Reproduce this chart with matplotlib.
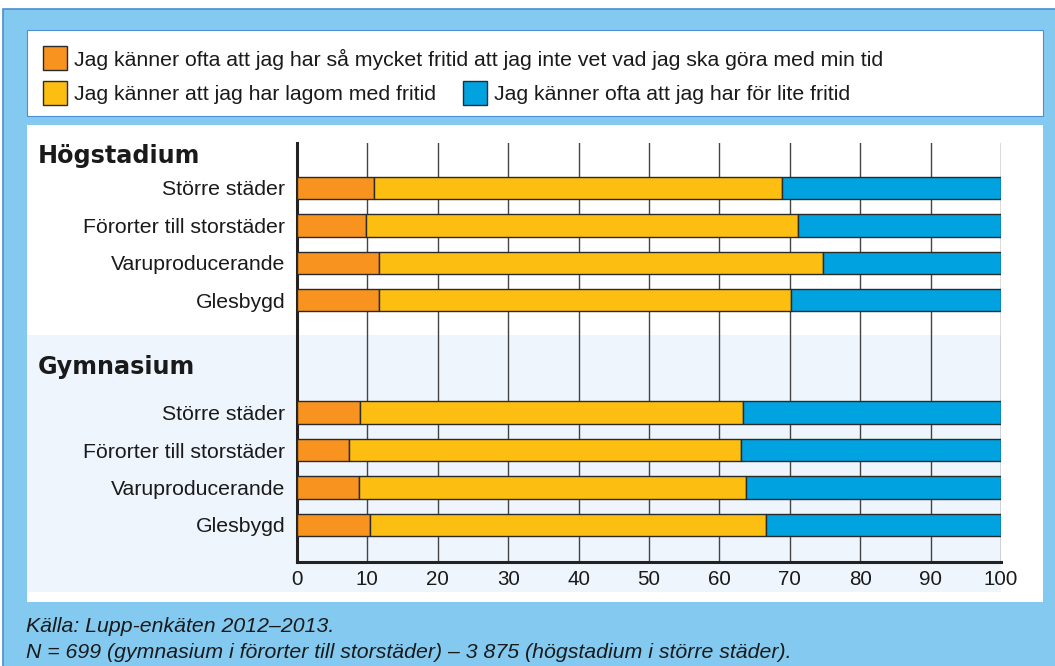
import matplotlib
matplotlib.use("Agg")
import matplotlib.pyplot as plt
from matplotlib.patches import Rectangle
import numpy as np

plt.rcParams['font.family'] = ['Liberation Sans', 'DejaVu Sans']

# ---- data ----
categories = ["Större städer", "Förorter till storstäder", "Varuproducerande", "Glesbygd"]
groups = ["Högstadium", "Gymnasium"]
too_much_hog = [10.9, 9.8, 11.6, 11.7]
lagom_hog = [58.0, 61.4, 63.1, 58.5]
too_much_gym = [8.9, 7.4, 8.8, 10.3]
lagom_gym = [54.4, 55.6, 55.0, 56.3]
series_labels = [
    "Jag känner ofta att jag har så mycket fritid att jag inte vet vad jag ska göra med min tid",
    "Jag känner att jag har lagom med fritid",
    "Jag känner ofta att jag har för lite fritid",
]
xticks = [0, 10, 20, 30, 40, 50, 60, 70, 80, 90, 100]
source_lines = [
    "Källa: Lupp-enkäten 2012–2013.",
    "N = 699 (gymnasium i förorter till storstäder) – 3 875 (högstadium i större städer).",
]

C_ORANGE = "#F7931E"
C_YELLOW = "#FDBE12"
C_BLUE = "#00A3E0"
EDGE = "#2a2a2a"
TXT = "#1a1a1a"

W, H = 1055, 666
fig = plt.figure(figsize=(W / 100, H / 100), dpi=100)
fig.patch.set_facecolor("white")


def prect(x0, y0, x1, y1, **kw):
    """rectangle in pixel coords (y from top)"""
    r = Rectangle((x0 / W, 1 - y1 / H), (x1 - x0) / W, (y1 - y0) / H,
                  transform=fig.transFigure, **kw)
    fig.patches.append(r)
    return r


# backgrounds
prect(3, 9, 1056, 667, facecolor="#84C9EF", edgecolor="#4A8FCF", lw=1.2, zorder=-10)
prect(27, 30, 1043, 116, facecolor="white", edgecolor="#4A8FCF", lw=0.8, zorder=-9)
prect(27, 125, 1043, 602, facecolor="white", edgecolor="none", zorder=-9)
prect(27, 335, 1001, 592, facecolor="#EEF5FC", edgecolor="none", zorder=-8)

# legend
leg_items = [(43, 58, C_ORANGE, series_labels[0]),
             (43, 93, C_YELLOW, series_labels[1]),
             (463, 93, C_BLUE, series_labels[2])]
for x, yc, col, lab in leg_items:
    prect(x, yc - 12, x + 24, yc + 12, facecolor=col, edgecolor=EDGE, lw=1.0, zorder=2)
    fig.text((x + 31) / W, 1 - (yc + 1) / H, lab, fontsize=15.35, va="center", ha="left",
             color=TXT)

# axes
ax = fig.add_axes([297 / W, 1 - 562 / H, (1001 - 297) / W, (562 - 143) / H])
ax.set_facecolor("none")

pos_hog = np.arange(4)
pos_gym = np.arange(4) + 6
bh = 0.6
for pos, a, b in [(pos_hog, too_much_hog, lagom_hog), (pos_gym, too_much_gym, lagom_gym)]:
    a = np.array(a)
    b = np.array(b)
    c = 100 - a - b
    ax.barh(pos, a, height=bh, color=C_ORANGE, edgecolor=EDGE, lw=1.0, zorder=3)
    ax.barh(pos, b, left=a, height=bh, color=C_YELLOW, edgecolor=EDGE, lw=1.0, zorder=3)
    ax.barh(pos, c, left=a + b, height=bh, color=C_BLUE, edgecolor=EDGE, lw=1.0, zorder=3)

ax.set_xlim(0, 100)
ax.set_ylim(9.99, -1.2)
ax.set_xticks(xticks)
ax.set_xticklabels([str(t) for t in xticks], fontsize=14.8, color=TXT)
ax.set_yticks(list(pos_hog) + list(pos_gym))
ax.set_yticklabels(categories + categories, fontsize=15.3, color=TXT)
ax.tick_params(axis="both", length=0)
ax.tick_params(axis="y", pad=8.5)
ax.tick_params(axis="x", pad=6)
for t in xticks[1:]:
    ax.axvline(t, color="#444444", lw=1.0, zorder=1)
for s in ["top", "right"]:
    ax.spines[s].set_visible(False)
ax.spines["left"].set_linewidth(2.2)
ax.spines["bottom"].set_linewidth(2.2)
ax.spines["left"].set_color("#222222")
ax.spines["bottom"].set_color("#222222")

# group labels
fig.text(38 / W, 1 - 156 / H, groups[0], fontsize=17.2, fontweight="bold",
         family="DejaVu Sans", va="center", ha="left", color=TXT)
fig.text(38 / W, 1 - 367 / H, groups[1], fontsize=17.2, fontweight="bold",
         family="DejaVu Sans", va="center", ha="left", color=TXT)

# footer
fig.text(26 / W, 1 - 626 / H, source_lines[0], fontsize=15.3, style="italic",
         va="center", ha="left", color=TXT)
fig.text(26 / W, 1 - 653 / H, source_lines[1], fontsize=15.3, style="italic",
         va="center", ha="left", color=TXT)

fig.savefig("out.png", dpi=100)
